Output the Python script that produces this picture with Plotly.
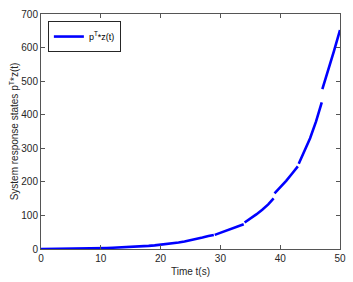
import plotly.graph_objects as go

# Time samples (None separates the visible pieces of the curve)
time_s = [0, 1, 2, 3, 4, 5, 6, 7, 8, 9, 10, 11, 12, 13, 14, 15, 16, 17, 18, 19, 20,
          21, 22, 23, 24, 25, 26, 27, 28, 28.9, None,
          29.05, 30, 31, 32, 33, 33.9, None,
          34.05, 35, 36, 37, 38, 38.9, None,
          39.05, 40, 41, 42, 42.95, None,
          43.1, 44, 45, 46, 46.95, None,
          47.05, 48, 49, 50]
response = [0, 0.1, 0.3, 0.5, 0.7, 0.9, 1.2, 1.5, 1.8, 2.2, 2.7, 3.2, 3.8, 4.4, 5.2, 6.0,
            7.0, 8.1, 9.4, 10.9, 12.6, 14.5, 16.8, 19.4, 22.4, 25.8, 29.7, 34.0, 38.5, 41.5, None,
            42, 48, 54, 61, 68, 74, None,
            79, 90, 103, 117, 133, 151, None,
            166, 183, 203, 225, 246, None,
            254, 288, 330, 380, 437, None,
            476, 530, 590, 652]

x_ticks = [0, 10, 20, 30, 40, 50]
y_ticks = [0, 100, 200, 300, 400, 500, 600, 700]

legend_label = "p<sup>T</sup>*z(t)"
FONT = "Liberation Sans, Arial"

fig = go.Figure()
fig.add_trace(go.Scatter(x=time_s, y=response, mode="lines", name=legend_label,
                         line=dict(color="#0000ff", width=2.6), connectgaps=False))

axis_common = dict(showline=True, linecolor="#555555", linewidth=1, mirror="ticks",
                   ticks="inside", ticklen=4, tickcolor="#555555", showgrid=False,
                   zeroline=False, automargin=False,
                   tickfont=dict(family=FONT, size=10, color="#262626"))

fig.update_layout(
    width=353, height=282,
    margin=dict(l=41, r=13, t=14, b=33),
    paper_bgcolor="white", plot_bgcolor="white",
    showlegend=True,
    legend=dict(x=0.023, y=0.97, xanchor="left", yanchor="top",
                bordercolor="#262626", borderwidth=1, bgcolor="white",
                font=dict(family=FONT, size=9, color="#000000"),
                itemwidth=30, tracegroupgap=0),
    xaxis=dict(range=[0, 50], tickvals=x_ticks,
               title=dict(text="Time t(s)", standoff=4,
                          font=dict(family=FONT, size=10, color="#262626")),
               **axis_common),
    yaxis=dict(range=[0, 700], tickvals=y_ticks,
               title=dict(text="System response states p<sup>T</sup>*z(t)", standoff=0,
                          font=dict(family=FONT, size=10, color="#262626")),
               **axis_common),
)

fig.write_html("out.html", config={"displayModeBar": False},
               post_script="document.body.style.margin='0';document.body.style.overflow='hidden';")
